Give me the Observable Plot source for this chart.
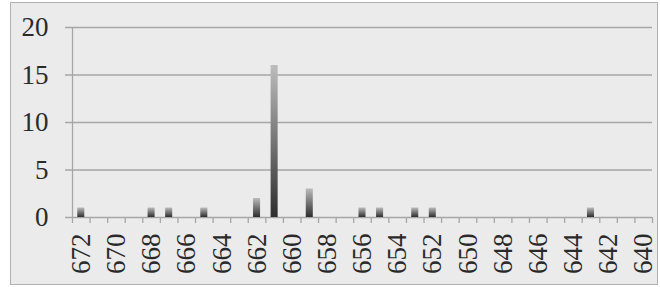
<!DOCTYPE html>
<html>
<head>
<meta charset="utf-8">
<script src="https://cdn.jsdelivr.net/npm/d3@7"></script>
<script src="https://cdn.jsdelivr.net/npm/@observablehq/plot@0.6"></script>
<style>
  html, body { margin: 0; padding: 0; background: #ffffff; }
  #wrap { position: relative; width: 660px; height: 287px; overflow: hidden; }
  #frame { position: absolute; left: 10px; top: 2px; width: 646px; height: 281px; border: 1.5px solid #b0b0b0; background: #ebebeb; }
  #chart { position: absolute; left: 0; top: 0; }
  #chart svg { background: transparent; }
</style>
</head>
<body>
<div id="wrap"><div id="frame"></div><div id="chart"></div></div>
<script>
const categories = ["672","671","670","669","668","667","666","665","664","663","662","661","660","659","658","657","656","655","654","653","652","651","650","649","648","647","646","645","644","643","642","641","640"];
const values =     [1,0,0,0,1,1,0,1,0,0,2,16,0,3,0,0,1,1,0,1,1,0,0,0,0,0,0,0,0,1,0,0,0];
const yTicks = [0, 5, 10, 15, 20];
const xLabels = categories.filter((c, i) => i % 2 === 0);

const data = categories.map((c, i) => ({cat: c, value: values[i]}));

const W = 660, H = 287, mL = 72, mR = 8, mT = 27, mB = 70;
const step = (W - mL - mR) / categories.length;
const barInset = step * 0.3;
const gridCol = "#a6a6a6";

const plot = Plot.plot({
  width: W,
  height: H,
  marginLeft: mL,
  marginRight: mR,
  marginTop: mT,
  marginBottom: mB,
  style: {fontFamily: "'Liberation Serif', serif", background: "transparent", color: "#2a2a2a"},
  x: {type: "band", domain: categories, padding: 0, round: false, label: null},
  y: {domain: [0, 20], label: null},
  marks: [
    Plot.ruleY(yTicks, {y: d => d, stroke: gridCol, strokeWidth: 1.3, insetLeft: -7}),
    Plot.ruleX([categories[0]], {x: d => d, y1: 0, y2: 20, dx: -step / 2, stroke: gridCol, strokeWidth: 1.3}),
    Plot.ruleX(categories, {x: d => d, y1: 0, y2: 0, insetBottom: -6, dx: -step / 2, stroke: gridCol, strokeWidth: 1.3}),
    Plot.ruleX([categories[categories.length - 1]], {x: d => d, y1: 0, y2: 0, insetBottom: -6, dx: step / 2, stroke: gridCol, strokeWidth: 1.3}),
    Plot.barY(data.filter(d => d.value > 0), {x: "cat", y: "value", fill: "url(#barGrad)", insetLeft: barInset, insetRight: barInset}),
    Plot.axisY(yTicks, {tickSize: 0, tickPadding: 24, fontSize: 27, fill: "#2a2a2a"}),
    Plot.axisX(xLabels, {tickSize: 0, tickPadding: 16, tickRotate: -90, fontSize: 27, fill: "#2a2a2a"})
  ]
});

const svg = d3.select(plot);
const defs = svg.insert("defs", ":first-child");
const g = defs.append("linearGradient").attr("id", "barGrad").attr("x1", 0).attr("y1", 0).attr("x2", 0).attr("y2", 1);
g.append("stop").attr("offset", "0%").attr("stop-color", "#bcbcbc");
g.append("stop").attr("offset", "100%").attr("stop-color", "#2e2e2e");

document.getElementById("chart").appendChild(plot);
</script>
</body>
</html>
